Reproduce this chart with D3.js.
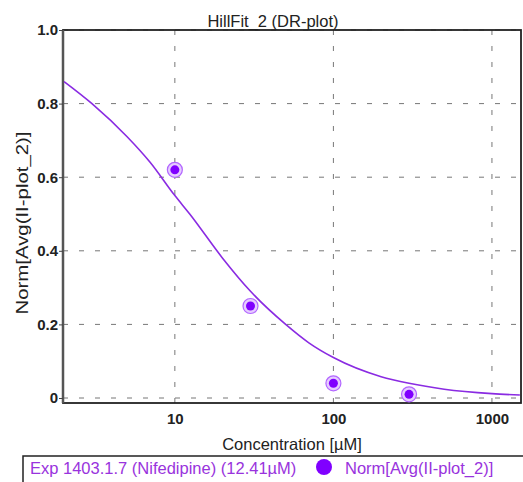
<!DOCTYPE html>
<html>
<head>
<meta charset="utf-8">
<script src="https://cdn.jsdelivr.net/npm/d3@7"></script>
<style>
body { margin: 0; background: #fff; }
text { font-family: "Liberation Sans", Arial, sans-serif; }
</style>
</head>
<body>
<div id="chart"></div>
<script>
// Data
var pointConc = [10, 30, 100, 300];
var pointNorm = [0.62, 0.25, 0.04, 0.01];

// fitted Hill curve
var curveConc = [2, 3, 5, 7, 10, 12.41, 20, 30, 50, 70, 100, 200, 300, 500, 1000, 1500];
var curveNorm = [0.86, 0.80, 0.71, 0.64, 0.55, 0.50, 0.38, 0.29, 0.20, 0.15, 0.11, 0.058, 0.04, 0.024, 0.012, 0.008];

var xTicks = [10, 100, 1000];
var yTicks = [0, 0.2, 0.4, 0.6, 0.8, 1.0];
var yTickLabels = ['0', '0.2', '0.4', '0.6', '0.8', '1.0'];

var titleText = 'HillFit_2 (DR-plot)';
var xLabel = 'Concentration [\u00b5M]';
var yLabel = 'Norm[Avg(II-plot_2)]';
var fitLabel = 'Exp 1403.1.7 (Nifedipine) (12.41\u00b5M)';
var pointLabel = 'Norm[Avg(II-plot_2)]';

// Config
var W = 523, H = 482;
var plotLeft = 63, plotRight = 521, plotTop = 30, plotBottom = 403;
var purple = '#8a2be2';
var dotColor = '#8000ff';
var legendColor = '#9933dd';
var font = '"Liberation Sans", Arial, sans-serif';

var svg = d3.select('#chart').append('svg')
	.attr('width', W).attr('height', H);

var x = d3.scaleLog().domain([1.97, 1525]).range([plotLeft, plotRight]);
var y = d3.scaleLinear().domain([0, 1]).range([398, plotTop]);

// grid
var grid = svg.append('g').attr('class', 'grid');
grid.selectAll('.hgrid').data(yTicks).enter().append('line')
	.attr('x1', plotLeft).attr('x2', plotRight)
	.attr('y1', d => y(d)).attr('y2', d => y(d))
	.attr('stroke', '#777').attr('stroke-width', 1)
	.attr('stroke-dasharray', '5,11');
grid.selectAll('.vgrid').data(xTicks).enter().append('line')
	.attr('x1', d => x(d)).attr('x2', d => x(d))
	.attr('y1', plotTop).attr('y2', plotBottom)
	.attr('stroke', '#777').attr('stroke-width', 1)
	.attr('stroke-dasharray', '5,11');

// frame
svg.append('rect')
	.attr('x', plotLeft).attr('y', plotTop)
	.attr('width', plotRight - plotLeft).attr('height', plotBottom - plotTop)
	.attr('fill', 'none').attr('stroke', '#222').attr('stroke-width', 1.8);
svg.append('line')
	.attr('x1', plotLeft).attr('x2', plotLeft).attr('y1', plotTop).attr('y2', plotBottom)
	.attr('stroke', '#555').attr('stroke-width', 2.5);

// axes
var yAxis = d3.axisLeft(y).tickValues(yTicks)
	.tickFormat((d, i) => yTickLabels[i]).tickSize(4).tickPadding(1);
var gy = svg.append('g').attr('transform', `translate(${plotLeft},0)`).call(yAxis);
gy.select('.domain').remove();
gy.selectAll('line').attr('stroke', '#444');
gy.selectAll('text').attr('font-size', 15).attr('fill', '#222')
	.attr('font-family', font).attr('font-weight', 'bold');

var xAxis = d3.axisBottom(x).tickValues(xTicks)
	.tickFormat(d3.format('d')).tickSize(0).tickPadding(10);
var gx = svg.append('g').attr('transform', `translate(0,${plotBottom})`).call(xAxis);
gx.select('.domain').remove();
gx.selectAll('text').attr('font-size', 15).attr('fill', '#222')
	.attr('font-family', font).attr('font-weight', 'bold');

// curve
var line = d3.line()
	.x((d, i) => x(curveConc[i]))
	.y(d => y(d))
	.curve(d3.curveMonotoneX);
svg.append('path')
	.attr('d', line(curveNorm))
	.attr('fill', 'none')
	.attr('stroke', purple).attr('stroke-width', 1.6);

// points
var pts = svg.selectAll('.pt').data(pointNorm).enter().append('g')
	.attr('transform', (d, i) => `translate(${x(pointConc[i])},${y(d)})`);
pts.append('circle').attr('r', 7.5)
	.attr('fill', '#e6ccff').attr('stroke', '#b266ff').attr('stroke-width', 1.2);
pts.append('circle').attr('r', 4.5).attr('fill', dotColor);

// title and labels
svg.append('text').attr('x', 273).attr('y', 27)
	.attr('text-anchor', 'middle').attr('font-size', 16.5).attr('fill', '#222')
	.text(titleText);
svg.append('text').attr('x', 292).attr('y', 450)
	.attr('text-anchor', 'middle').attr('font-size', 16.5).attr('fill', '#222')
	.text(xLabel);
svg.append('text')
	.attr('transform', 'translate(28,223) rotate(-90)')
	.attr('text-anchor', 'middle').attr('font-size', 17).attr('fill', '#222')
	.attr('textLength', 183).attr('lengthAdjust', 'spacingAndGlyphs')
	.text(yLabel);

// legend
svg.append('rect')
	.attr('x', 23).attr('y', 456).attr('width', 520).attr('height', 40)
	.attr('fill', '#fff').attr('stroke', '#222').attr('stroke-width', 1.5);
svg.append('text').attr('x', 30).attr('y', 474)
	.attr('font-size', 16.5).attr('fill', legendColor)
	.text(fitLabel);
svg.append('circle').attr('cx', 324).attr('cy', 467).attr('r', 8)
	.attr('fill', dotColor);
svg.append('text').attr('x', 345).attr('y', 474)
	.attr('font-size', 16.5).attr('fill', legendColor)
	.text(pointLabel);
</script>
</body>
</html>
